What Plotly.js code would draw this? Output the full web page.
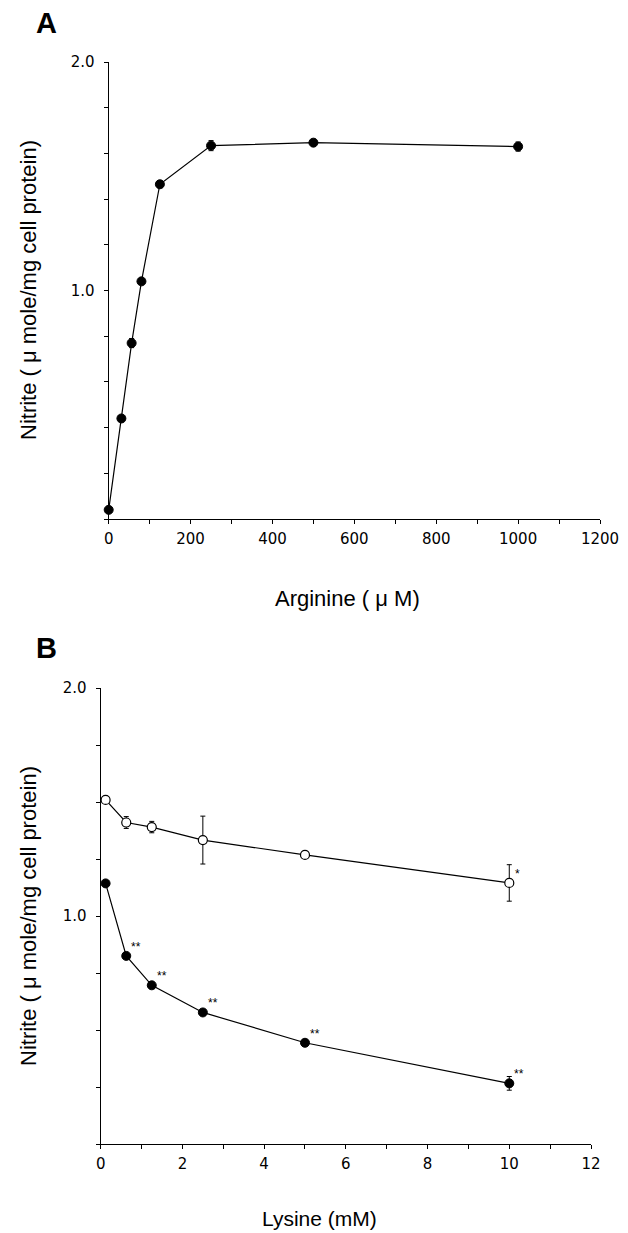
<!DOCTYPE html>
<html>
<head>
<meta charset="utf-8">
<script src="https://cdn.plot.ly/plotly-3.0.1.min.js"></script>
<style>html,body{margin:0;padding:0;background:#fff;}#chart{width:628px;height:1233px;}</style>
</head>
<body>
<div id="chart"></div>
<script>
// Panel A: arginine dose response
const argX = [0, 31, 56, 80, 125, 250, 500, 1000];
const argY = [0.04, 0.44, 0.77, 1.04, 1.465, 1.634, 1.647, 1.63];
const argErr = [0.0, 0.0, 0.02, 0.0, 0.015, 0.022, 0.015, 0.02];

// Panel B: lysine inhibition
const lysX = [0.12, 0.625, 1.25, 2.5, 5, 10];
const lysOpenY = [1.509, 1.41, 1.39, 1.333, 1.268, 1.145];
const lysOpenErr = [0.0, 0.026, 0.025, 0.105, 0.015, 0.08];
const lysOpenSig = ['', '', '', '', '', '*'];
const lysFilledY = [1.143, 0.825, 0.696, 0.577, 0.444, 0.266];
const lysFilledErr = [0.0, 0.0, 0.0, 0.0, 0.0, 0.03];
const lysFilledSig = ['', '**', '**', '**', '**', '**'];

// Tick labels
const aXTickVals = [0,100,200,300,400,500,600,700,800,900,1000,1100,1200];
const aXTickText = ['0','','200','','400','','600','','800','','1000','','1200'];
const aYTickVals = [0,0.2,0.4,0.6,0.8,1.0,1.2,1.4,1.6,1.8,2.0];
const aYTickText = ['','','','','','1.0','','','','','2.0'];
const bXTickVals = [0,1,2,3,4,5,6,7,8,9,10,11,12];
const bXTickText = ['0','','2','','4','','6','','8','','10','','12'];
const bYTickVals = [0,0.25,0.5,0.75,1.0,1.25,1.5,1.75,2.0];
const bYTickText = ['','','','','1.0','','','','2.0'];

const W = 628, H = 1233;
const FONT = 'Liberation Sans, Arial, Helvetica, sans-serif';
const TICKFONT = 'DejaVu Sans, Verdana, sans-serif';
const px = v => v / W;
const py = v => 1 - v / H;

const errStyle = (arr) => ({type:'data', array:arr, visible:true, color:'#000', thickness:1, width:2.5});
const filledMarker = {symbol:'circle', size:9, color:'#000', line:{color:'#000', width:1}};
const openMarker = {symbol:'circle', size:9, color:'#fff', line:{color:'#000', width:1.2}};
const lineStyle = {color:'#000', width:1.2};

const traces = [
  {x:argX, y:argY, error_y:errStyle(argErr), mode:'lines+markers', marker:filledMarker, line:lineStyle, xaxis:'x', yaxis:'y', cliponaxis:false, showlegend:false},
  {x:lysX, y:lysOpenY, error_y:errStyle(lysOpenErr), mode:'lines+markers', marker:openMarker, line:lineStyle, xaxis:'x2', yaxis:'y2', cliponaxis:false, showlegend:false},
  {x:lysX, y:lysFilledY, error_y:errStyle(lysFilledErr), mode:'lines+markers', marker:filledMarker, line:lineStyle, xaxis:'x2', yaxis:'y2', cliponaxis:false, showlegend:false}
];

const axisBase = {
  showline:true, linecolor:'#000', linewidth:1.2, showgrid:false, zeroline:false,
  ticks:'outside', ticklen:4, tickwidth:1, tickcolor:'#000',
  tickmode:'array', tickfont:{family:TICKFONT, size:15, color:'#000'}, fixedrange:true
};

const annotations = [];
// significance marks
lysX.forEach((x, i) => {
  if (lysFilledSig[i]) annotations.push({x:x, y:lysFilledY[i], xref:'x2', yref:'y2', text:lysFilledSig[i], showarrow:false, xanchor:'left', yanchor:'bottom', xshift:3, yshift:0, font:{family:FONT, size:12, color:'#000'}});
  if (lysOpenSig[i]) annotations.push({x:x, y:lysOpenY[i], xref:'x2', yref:'y2', text:lysOpenSig[i], showarrow:false, xanchor:'left', yanchor:'bottom', xshift:4, yshift:0, font:{family:FONT, size:12, color:'#000'}});
});
// panel letters
annotations.push({x:px(46.5), y:py(23), xref:'paper', yref:'paper', text:'<b>A</b>', showarrow:false, xanchor:'center', yanchor:'middle', font:{family:FONT, size:29, color:'#000'}});
annotations.push({x:px(46.5), y:py(648), xref:'paper', yref:'paper', text:'<b>B</b>', showarrow:false, xanchor:'center', yanchor:'middle', font:{family:FONT, size:29, color:'#000'}});
// axis titles
const yTitle = 'Nitrite ( \u03bc mole/mg cell protein)';
annotations.push({x:px(28), y:py(290), xref:'paper', yref:'paper', text:yTitle, textangle:-90, showarrow:false, xanchor:'center', yanchor:'middle', font:{family:FONT, size:22, color:'#000'}});
annotations.push({x:px(28), y:py(916), xref:'paper', yref:'paper', text:yTitle, textangle:-90, showarrow:false, xanchor:'center', yanchor:'middle', font:{family:FONT, size:22, color:'#000'}});
annotations.push({x:px(347), y:py(598), xref:'paper', yref:'paper', text:'Arginine ( \u03bc M)', showarrow:false, xanchor:'center', yanchor:'middle', font:{family:FONT, size:22, color:'#000'}});
annotations.push({x:px(319), y:py(1218), xref:'paper', yref:'paper', text:'Lysine (mM)', showarrow:false, xanchor:'center', yanchor:'middle', font:{family:FONT, size:21, color:'#000'}});

const layout = {
  width:W, height:H, margin:{l:0, r:0, t:0, b:0},
  paper_bgcolor:'#fff', plot_bgcolor:'#fff', showlegend:false,
  xaxis: Object.assign({}, axisBase, {domain:[px(108.7), px(600)], range:[0,1200], tickvals:aXTickVals, ticktext:aXTickText, anchor:'y', ticklabelstandoff:2}),
  yaxis: Object.assign({}, axisBase, {domain:[py(519), py(62)], range:[0,2], tickvals:aYTickVals, ticktext:aYTickText, anchor:'x', ticklabelstandoff:6}),
  xaxis2: Object.assign({}, axisBase, {domain:[px(100.7), px(591)], range:[0,12], tickvals:bXTickVals, ticktext:bXTickText, anchor:'y2', ticklabelstandoff:2}),
  yaxis2: Object.assign({}, axisBase, {domain:[py(1144), py(688)], range:[0,2], tickvals:bYTickVals, ticktext:bYTickText, anchor:'x2', ticklabelstandoff:6}),
  annotations: annotations
};

Plotly.newPlot('chart', traces, layout, {displayModeBar:false, staticPlot:true});
</script>
</body>
</html>
